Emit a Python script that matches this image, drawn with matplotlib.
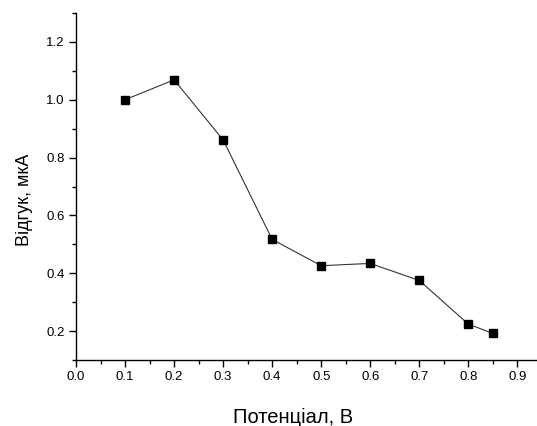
import matplotlib
matplotlib.use("Agg")
import matplotlib.pyplot as plt
from matplotlib.ticker import MultipleLocator

potential = [0.1, 0.2, 0.3, 0.4, 0.5, 0.6, 0.7, 0.8, 0.85]
response = [1.0, 1.069, 0.861, 0.517, 0.426, 0.434, 0.375, 0.224, 0.192]

plt.rcParams['font.family'] = ['Liberation Sans', 'DejaVu Sans']

fig = plt.figure(figsize=(5.37, 4.26), dpi=100)
ax = fig.add_axes([76/537, 1 - 360/426, 1 - 76/537, (360 - 13)/426])

ax.plot(potential, response, color='#333333', lw=0.8, marker='s', markersize=6,
        markerfacecolor='black', markeredgecolor='black')

ax.set_xlim(0.0, 0.94)
ax.set_ylim(0.1, 1.3)
ax.xaxis.set_major_locator(MultipleLocator(0.1))
ax.xaxis.set_minor_locator(MultipleLocator(0.05))
ax.yaxis.set_minor_locator(MultipleLocator(0.1))
ax.set_yticks([0.2, 0.4, 0.6, 0.8, 1.0, 1.2])
ax.xaxis.set_major_formatter(plt.FormatStrFormatter('%.1f'))
ax.yaxis.set_major_formatter(plt.FormatStrFormatter('%.1f'))

ax.spines['top'].set_visible(False)
ax.spines['right'].set_visible(False)
for s in ('left', 'bottom'):
    ax.spines[s].set_linewidth(1.0)
ax.tick_params(which='major', direction='out', length=5, width=1.0, labelsize=9.5, pad=3)
ax.tick_params(which='minor', direction='out', length=3, width=1.0)

ax.set_xlabel('Потенціал, В', fontsize=14.5)
ax.set_ylabel('Відгук, мкА', fontsize=13)
ax.xaxis.set_label_coords(0.4707, -0.137)
ax.yaxis.set_label_coords(-0.093, 0.4625)

fig.savefig('out.png', dpi=100)
